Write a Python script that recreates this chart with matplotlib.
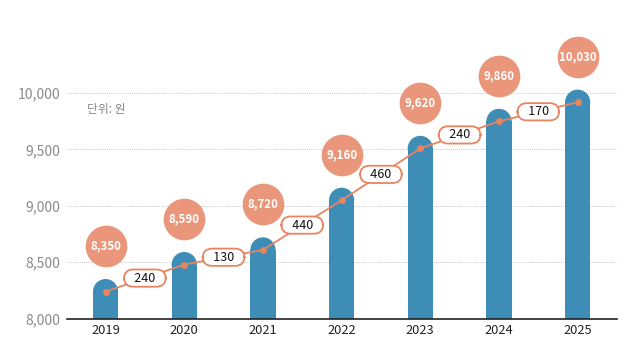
import matplotlib
matplotlib.use("Agg")
import matplotlib.pyplot as plt
from matplotlib.patches import Ellipse

plt.rcParams['font.family'] = ['Noto Sans CJK KR', 'DejaVu Sans']

years = ['2019', '2020', '2021', '2022', '2023', '2024', '2025']
wages = [8350, 8590, 8720, 9160, 9620, 9860, 10030]
increases = [240, 130, 440, 460, 240, 170]
yticks = [8000, 8500, 9000, 9500, 10000]

BAR = '#3d8db6'
SALMON = '#e9967a'
LINE = '#e8845f'

W, H = 632, 356
fig = plt.figure(figsize=(W / 100, H / 100), dpi=100)
left, right, bottom, top = 67, 617, 318.5, 4
ax = fig.add_axes([left / W, (H - bottom) / H, (right - left) / W, (bottom - top) / H])

ymin = 8000
px_per_y = 225.5 / 2000
ymax = ymin + (bottom - top) / px_per_y
xmin, xmax = -0.49, 6.5
px_per_x = (right - left) / (xmax - xmin)
ax.set_xlim(xmin, xmax)
ax.set_ylim(ymin, ymax)

bw = 0.32
r_y = (bw * px_per_x / 2) / px_per_y
xs = list(range(len(years)))

# grid
for t in yticks[1:]:
    ax.axhline(t, color='#b5b5b5', lw=0.6, ls=(0, (1, 1.5)), zorder=0)

# bars with rounded caps
tops = [w - r_y for w in wages]
ax.bar(xs, [t - ymin for t in tops], bottom=ymin, width=bw, color=BAR, lw=0, zorder=2)
for x, t in zip(xs, tops):
    ax.add_patch(Ellipse((x, t), bw, 2 * r_y, fc=BAR, ec='none', lw=0, zorder=2))

# line through cap centres
ax.plot(xs, tops, color=LINE, lw=1.3, marker='o', ms=4, zorder=3)

# increase labels
for i, inc in enumerate(increases):
    mx = (xs[i] + xs[i + 1]) / 2
    my = (tops[i] + tops[i + 1]) / 2
    ax.text(mx, my, f'   {inc}   ', ha='center', va='center', fontsize=9, color='#111111', zorder=5,
            bbox=dict(boxstyle='round,pad=0.17,rounding_size=0.75', fc='white', ec=LINE, lw=1.3))

# value circles
cy = [w + 33 / px_per_y for w in wages]
ax.scatter(xs, cy, s=900, color=SALMON, zorder=4, linewidths=0)
for x, y, w in zip(xs, cy, wages):
    ax.text(x, y, f'{w:,}', ha='center', va='center', color='white', fontsize=8.3,
            fontweight='bold', zorder=5)

ax.text(-0.24, 9850, '단위: 원', fontsize=8.5, color='#888888', ha='left', va='center')

ax.set_yticks(yticks)
ax.set_yticklabels([f'{t:,}' for t in yticks], color='#8a8a8a', fontsize=10)
ax.set_xticks(xs)
ax.set_xticklabels(years, fontsize=9.3, color='#222222')
ax.tick_params(axis='both', length=0)
ax.tick_params(axis='y', pad=5)
ax.tick_params(axis='x', pad=4)
for s in ['top', 'right', 'left']:
    ax.spines[s].set_visible(False)
ax.spines['bottom'].set_color('#222222')
ax.spines['bottom'].set_linewidth(1.2)
ax.spines['bottom'].set_zorder(6)

fig.savefig('out.png', dpi=100)
